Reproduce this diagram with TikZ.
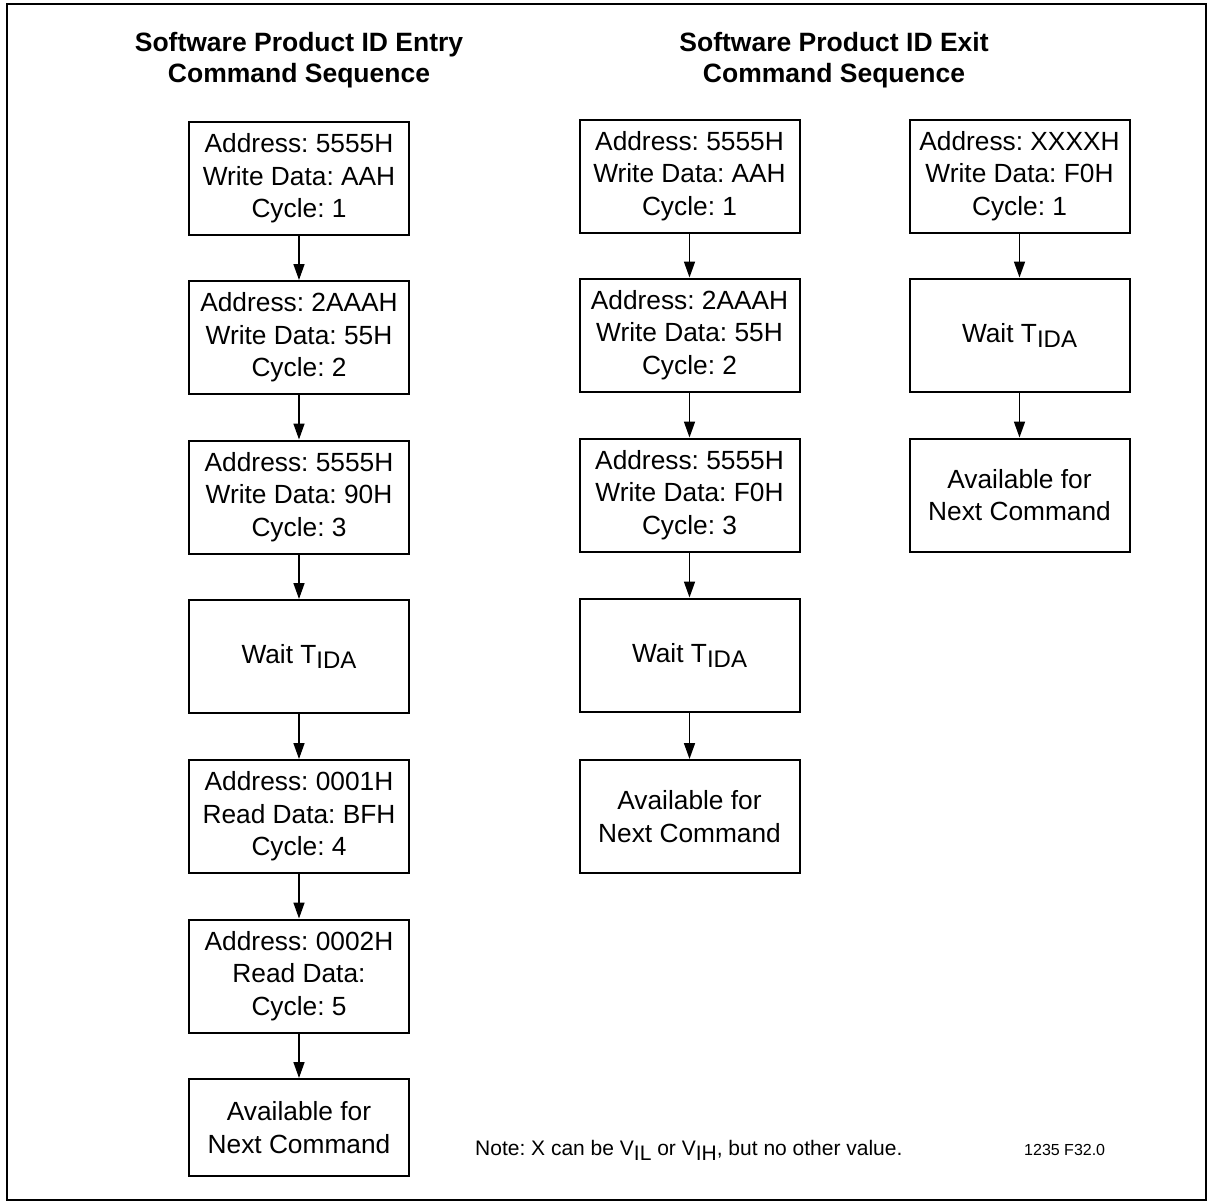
\documentclass[tikz,border=0pt]{standalone}
\usepackage{fontspec}
\setmainfont{Liberation Sans}
\usetikzlibrary{arrows.meta}
\frenchspacing
\tikzset{
  stepbox/.style={draw, line width=2pt, minimum width=220pt, minimum height=113pt, inner sep=0pt, align=center, font=\fontsize{26.3}{32.5}\selectfont},
  shortbox/.style={stepbox, minimum height=97pt},
  flow/.style={line width=1.6pt, -{Triangle[length=16pt,width=11pt]}},
  titletext/.style={align=center, font=\fontsize{26.5}{31}\selectfont\bfseries},
}
\newcommand{\waitT}{Wait T\raisebox{-5pt}{\fontsize{24}{24}\selectfont IDA}}
\begin{document}
\begin{tikzpicture}[x=1pt,y=-1pt]
\useasboundingbox (0,0) rectangle (1212,1202);
\draw[line width=2pt] (7,4) rectangle (1206,1200);
% titles
\node[titletext] (t1) at (299,60) {Software Product ID Entry\\Command Sequence};
\node[titletext] (t2) at (834,60) {Software Product ID Exit\\Command Sequence};
% left column
\node[stepbox] (a1) at (299,178.5) {Address: 5555H\\Write Data: AAH\\Cycle: 1};
\node[stepbox] (a2) at (299,337.5) {Address: 2AAAH\\Write Data: 55H\\Cycle: 2};
\node[stepbox] (a3) at (299,497) {Address: 5555H\\Write Data: 90H\\Cycle: 3};
\node[stepbox] (a4) at (299,656.5) {\waitT};
\node[stepbox] (a5) at (299,816.5) {Address: 0001H\\Read Data: BFH\\Cycle: 4};
\node[stepbox] (a6) at (299,976) {Address: 0002H\\Read Data:\\Cycle: 5};
\node[shortbox] (a7) at (299,1127.5) {Available for\\Next Command};
\foreach \i/\j in {a1/a2,a2/a3,a3/a4,a4/a5,a5/a6,a6/a7} \draw[flow] (\i) -- (\j);
% middle column
\node[stepbox] (b1) at (689.5,176) {Address: 5555H\\Write Data: AAH\\Cycle: 1};
\node[stepbox] (b2) at (689.5,335) {Address: 2AAAH\\Write Data: 55H\\Cycle: 2};
\node[stepbox] (b3) at (689.5,495) {Address: 5555H\\Write Data: F0H\\Cycle: 3};
\node[stepbox] (b4) at (689.5,655) {\waitT};
\node[stepbox] (b5) at (689.5,816.5) {Available for\\Next Command};
\foreach \i/\j in {b1/b2,b2/b3,b3/b4,b4/b5} \draw[flow] (\i) -- (\j);
% right column
\node[stepbox] (c1) at (1019.5,176) {Address: XXXXH\\Write Data: F0H\\Cycle: 1};
\node[stepbox] (c2) at (1019.5,335) {\waitT};
\node[stepbox] (c3) at (1019.5,495) {Available for\\Next Command};
\foreach \i/\j in {c1/c2,c2/c3} \draw[flow] (\i) -- (\j);
% notes
\node[anchor=base west, inner sep=0pt, font=\fontsize{21}{24}\selectfont] (note) at (475,1155) {Note: X can be V\raisebox{-5pt}{IL} or V\raisebox{-5pt}{IH}, but no other value.};
\node[anchor=base west, inner sep=0pt, font=\fontsize{16}{20}\selectfont] (ref) at (1024,1155) {1235 F32.0};
\end{tikzpicture}
\end{document}
